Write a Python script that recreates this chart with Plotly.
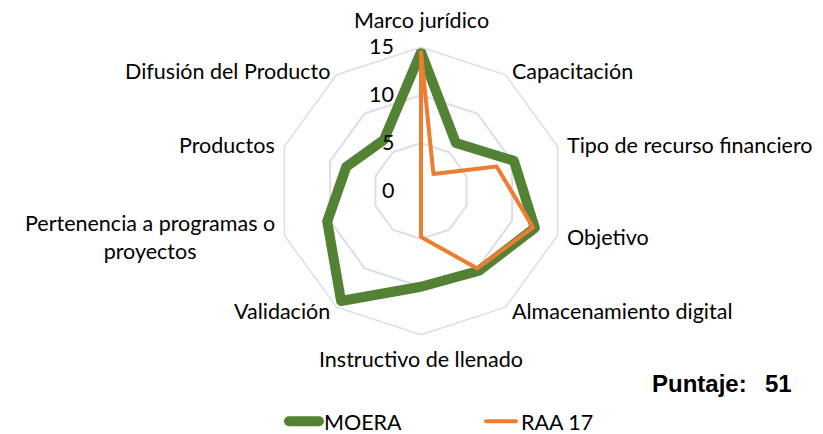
import math
import plotly.graph_objects as go

categories = ["Marco jurídico", "Capacitación", "Tipo de recurso financiero", "Objetivo",
              "Almacenamiento digital", "Instructivo de llenado", "Validación",
              "Pertenencia a programas o<br>proyectos", "Productos", "Difusión del Producto"]
moera = [14.5, 6.2, 10.2, 12.5, 10.3, 10.0, 14.2, 10.3, 8.2, 6.6]
raa17 = [14.5, 2.2, 8.3, 12.3, 10.0, 4.8, 0, 0, 0, 0]
radial_ticks = [0, 5, 10, 15]
series_names = ["MOERA", "RAA 17"]
score_label = "Puntaje:"
score_value = "51"

W, H = 823, 434
OFF = 8                      # page body margin of the html page
CX, CY, R = 421, 194, 146    # polar center / radius in screen px
RMAX = 15
FONT = "Lato"
FS = 21.5
GRID = "#D9DEE7"


def px(x):
    return (x - OFF) / W


def py(y):
    return 1 - (y - OFF) / H


fig = go.Figure()
fig.add_trace(go.Scatterpolar(
    r=moera + moera[:1], theta=categories + categories[:1], mode="lines",
    name=series_names[0], line=dict(color="#548235", width=10)))
fig.add_trace(go.Scatterpolar(
    r=raa17 + raa17[:1], theta=categories + categories[:1], mode="lines",
    name=series_names[1], line=dict(color="#ED7D31", width=4)))

annotations = []
n = len(categories)
for i, c in enumerate(categories):
    ang = math.radians(90 - i * 360 / n)
    ca, sa = math.cos(ang), math.sin(ang)
    vx, vy = CX + R * ca, CY - R * sa
    if abs(ca) < 0.01:
        pad = 13 if sa > 0 else 10
        xa = "center"
        ya = "bottom" if sa > 0 else "top"
    else:
        pad = 5
        xa = "left" if ca > 0 else "right"
        ya = "middle"
    x, y = vx + pad * ca, vy - pad * sa
    annotations.append(dict(x=px(x), y=py(y), xref="paper", yref="paper", text=c,
                            showarrow=False, xanchor=xa, yanchor=ya, align="center",
                            font=dict(family=FONT, size=FS, color="#000")))
for t in radial_ticks:
    y = CY - R * t / RMAX - 1
    annotations.append(dict(x=px(CX), y=py(y), xref="paper", yref="paper", text=str(t),
                            showarrow=False, xanchor="right", yanchor="middle", xshift=-25,
                            font=dict(family=FONT, size=FS, color="#000")))
annotations.append(dict(x=px(749), y=py(390), xref="paper", yref="paper",
                        text="<b>" + score_label + "</b>", showarrow=False,
                        xanchor="right", yanchor="middle",
                        font=dict(family="Liberation Sans", size=24, color="#000")))
annotations.append(dict(x=px(763), y=py(390), xref="paper", yref="paper",
                        text="<b>" + score_value + "</b>", showarrow=False,
                        xanchor="left", yanchor="middle",
                        font=dict(family="Liberation Sans", size=24, color="#000")))

fig.update_layout(
    width=W, height=H, margin=dict(l=0, r=0, t=0, b=0),
    paper_bgcolor="white", plot_bgcolor="white",
    polar=dict(
        domain=dict(x=[px(CX - R), px(CX + R)], y=[py(CY + R), py(CY - R)]),
        bgcolor="white", gridshape="linear",
        radialaxis=dict(range=[0, RMAX], tickvals=radial_ticks, showticklabels=False,
                        ticks="", showline=False, gridcolor=GRID, gridwidth=1.5, angle=90),
        angularaxis=dict(rotation=90, direction="clockwise", showticklabels=False, ticks="",
                         showgrid=False, showline=True, linecolor=GRID, linewidth=1.5),
    ),
    annotations=annotations,
    legend=dict(orientation="h", x=px(284), xanchor="left", y=py(428), yanchor="middle",
                font=dict(family=FONT, size=FS, color="#000"), entrywidth=152,
                bgcolor="rgba(0,0,0,0)"),
)
round_joins = ("document.querySelectorAll('.scatterlayer path.js-line, .legend path')"
               ".forEach(function(p){p.style.strokeLinejoin='round';p.style.strokeLinecap='round';});")
fig.write_html("out.html", post_script=round_joins)
